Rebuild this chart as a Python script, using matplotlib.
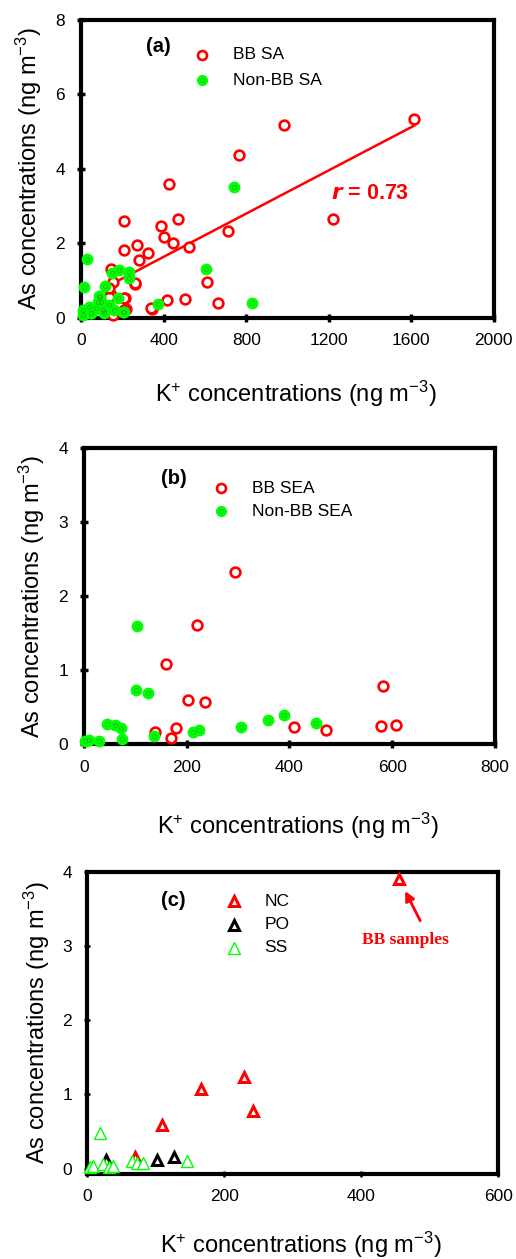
import numpy as np
import matplotlib
matplotlib.use("Agg")
import matplotlib.pyplot as plt

plt.rcParams['font.family'] = ['Liberation Sans', 'DejaVu Sans']
plt.rcParams['mathtext.fontset'] = 'custom'
plt.rcParams['mathtext.rm'] = 'Liberation Sans'
plt.rcParams['mathtext.it'] = 'Liberation Sans:italic'
plt.rcParams['mathtext.bf'] = 'Liberation Sans:bold'

# ---------------- data ----------------
# Panel (a): SA
bb_sa_k = [1615, 983, 765, 424, 1221, 206, 469, 389, 403, 447, 713, 521, 272, 209, 324, 279,
           611, 259, 503, 414, 665, 343, 212, 217, 145, 153, 146, 161, 262, 136, 209, 209, 153,
           128, 136, 338]
bb_sa_as = [5.34, 5.18, 4.37, 3.58, 2.64, 2.60, 2.64, 2.45, 2.15, 2.00, 2.33, 1.88, 1.96, 1.81,
            1.72, 1.55, 0.96, 0.91, 0.50, 0.47, 0.40, 0.24, 0.52, 0.22, 1.29, 0.96, 0.60, 0.13,
            0.92, 0.56, 0.52, 0.20, 0.07, 0.25, 0.78, 0.25]
nonbb_sa_k = [741, 28, 605, 827, 372, 15, 117, 149, 182, 230, 230, 177, 96, 88, 39, 7, 7, 47,
              104, 112, 160, 209, 136, 72, 91, 83, 46, 112, 204]
nonbb_sa_as = [3.51, 1.57, 1.31, 0.40, 0.36, 0.81, 0.85, 1.19, 1.28, 1.21, 1.05, 0.52, 0.42,
               0.58, 0.29, 0.20, 0.07, 0.11, 0.20, 0.11, 0.20, 0.16, 0.34, 0.25, 0.56, 0.42,
               0.11, 0.14, 0.14]
fit_slope = 0.0029
fit_intercept = 0.47
fit_k_range = [124, 1615]
r_text = r'$\mathbfit{r}$ = 0.73'

# Panel (b): SEA
bb_sea_k = [295, 221, 159, 582, 203, 236, 138, 180, 170, 408, 471, 578, 608]
bb_sea_as = [2.33, 1.61, 1.08, 0.79, 0.60, 0.57, 0.17, 0.22, 0.09, 0.24, 0.20, 0.25, 0.26]
nonbb_sea_k = [104, 101, 125, 45, 60, 72, 74, 136, 213, 224, 306, 358, 390, 452, 2, 10, 30]
nonbb_sea_as = [1.59, 0.73, 0.69, 0.27, 0.26, 0.22, 0.07, 0.11, 0.17, 0.20, 0.23, 0.33, 0.40,
                0.29, 0.04, 0.06, 0.04]

# Panel (c)
nc_k = [455, 229, 166, 241.5, 109.5, 70]
nc_as = [3.90, 1.24, 1.07, 0.78, 0.59, 0.16]
po_k = [102, 127, 28]
po_as = [0.12, 0.15, 0.12]
ss_k = [18.5, 145, 65, 72, 82, 4, 9, 23, 31, 38]
ss_as = [0.48, 0.10, 0.10, 0.08, 0.08, 0.02, 0.03, 0.06, 0.02, 0.04]

xlabel = r'K$^{+}$ concentrations (ng m$^{-3}$)'
ylabel = r'As concentrations (ng m$^{-3}$)'

RED = '#ff0000'
GREEN = '#00ff00'
GREEN_IN = '#22aa22'

W, H = 516, 1259
fig = plt.figure(figsize=(W / 100, H / 100), dpi=100)


def style_axes(ax):
    for s in ax.spines.values():
        s.set_linewidth(3.0)
    ax.tick_params(direction='inout', length=6, width=2.5, labelsize=12.5, pad=8.5,
                   top=False, right=False)


def red_circles(ax, x, y, ms=7):
    ax.plot(x, y, 'o', ls='none', mfc='white', mec=RED, mew=1.9, ms=ms, zorder=3,
            clip_on=False)


def green_circles(ax, x, y, ms=7.5):
    ax.plot(x, y, 'o', ls='none', mfc=GREEN, mec=GREEN, mew=1.0, ms=ms, zorder=4,
            clip_on=False)
    ax.plot(x, y, 'o', ls='none', mfc='none', mec=GREEN_IN, mew=0.5, ms=3, zorder=4,
            clip_on=False)


def set_labels(ax, xfrac_y, yfrac_x):
    ax.set_xlabel(xlabel, fontsize=17)
    ax.set_ylabel(ylabel, fontsize=17)
    ax.xaxis.set_label_coords(0.52, xfrac_y)
    ax.yaxis.set_label_coords(yfrac_x, 0.5)


# ---------------- (a) ----------------
ax = fig.add_axes([0.1574, 0.7478, 0.7994, 0.2367])
style_axes(ax)
red_circles(ax, bb_sa_k, bb_sa_as)
fx = np.array(fit_k_range)
ax.plot(fx, fit_slope * fx + fit_intercept, color=RED, lw=1.8, zorder=2)
green_circles(ax, nonbb_sa_k, nonbb_sa_as)
ax.set_xlim(0, 2000)
ax.set_ylim(0, 8)
ax.set_xticks([0, 400, 800, 1200, 1600, 2000])
ax.set_yticks([0, 2, 4, 6, 8])
ax.text(1210, 3.34, r_text, color=RED, fontsize=15.5, fontweight='bold', va='center')
ax.text(0.157, 0.909, '(a)', transform=ax.transAxes, fontsize=14.5, fontweight='bold',
        va='center')
red_circles(ax, [0.292], [0.881], ms=6.5)
ax.lines[-1].set_transform(ax.transAxes)
ax.plot([0.292], [0.797], 'o', mfc=GREEN, mec=GREEN, ms=7, transform=ax.transAxes)
ax.plot([0.292], [0.797], 'o', mfc='none', mec=GREEN_IN, mew=0.5, ms=3, transform=ax.transAxes)
ax.text(0.367, 0.881, 'BB SA', transform=ax.transAxes, fontsize=12.5, va='center')
ax.text(0.367, 0.797, 'Non-BB SA', transform=ax.transAxes, fontsize=12.5, va='center')
set_labels(ax, -0.205, -0.09)

# ---------------- (b) ----------------
ax = fig.add_axes([0.1628, 0.4087, 0.7961, 0.2357])
style_axes(ax)
red_circles(ax, bb_sea_k, bb_sea_as)
green_circles(ax, nonbb_sea_k, nonbb_sea_as)
ax.set_xlim(0, 800)
ax.set_ylim(0, 4)
ax.set_xticks([0, 200, 400, 600, 800])
ax.set_yticks([0, 1, 2, 3, 4])
ax.text(0.187, 0.895, '(b)', transform=ax.transAxes, fontsize=14.5, fontweight='bold',
        va='center')
red_circles(ax, [0.3335], [0.864], ms=6.5)
ax.lines[-1].set_transform(ax.transAxes)
ax.plot([0.3335], [0.786], 'o', mfc=GREEN, mec=GREEN, ms=7, transform=ax.transAxes)
ax.plot([0.3335], [0.786], 'o', mfc='none', mec=GREEN_IN, mew=0.5, ms=3, transform=ax.transAxes)
ax.text(0.408, 0.864, 'BB SEA', transform=ax.transAxes, fontsize=12.5, va='center')
ax.text(0.408, 0.786, 'Non-BB SEA', transform=ax.transAxes, fontsize=12.5, va='center')
set_labels(ax, -0.222, -0.09)

# ---------------- (c) ----------------
ax = fig.add_axes([0.1692, 0.0675, 0.7965, 0.2401])
style_axes(ax)
ax.tick_params(width=1.8, length=5)
ax.plot(nc_k, nc_as, '^', ls='none', mfc='white', mec=RED, mew=2.2, ms=6.5, zorder=3,
        clip_on=False)
ax.plot(po_k, po_as, '^', ls='none', mfc='white', mec='black', mew=2.2, ms=6.5, zorder=3,
        clip_on=False)
ax.plot(ss_k, ss_as, '^', ls='none', mfc='white', mec=GREEN, mew=1.0, ms=9, zorder=4,
        clip_on=False)
ax.set_xlim(0, 600)
ax.set_ylim(-0.074, 4)
ax.set_xticks([0, 200, 400, 600])
ax.set_yticks([0, 1, 2, 3, 4])
ax.text(0.1786, 0.906, '(c)', transform=ax.transAxes, fontsize=14.5, fontweight='bold',
        va='center')
ax.plot([0.357], [0.903], '^', mfc='white', mec=RED, mew=2.2, ms=6.5, transform=ax.transAxes)
ax.plot([0.357], [0.824], '^', mfc='white', mec='black', mew=2.2, ms=6.5, transform=ax.transAxes)
ax.plot([0.357], [0.749], '^', mfc='white', mec=GREEN, mew=1.0, ms=9, transform=ax.transAxes)
ax.text(0.431, 0.903, 'NC', transform=ax.transAxes, fontsize=12.5, va='center')
ax.text(0.431, 0.824, 'PO', transform=ax.transAxes, fontsize=12.5, va='center')
ax.text(0.431, 0.749, 'SS', transform=ax.transAxes, fontsize=12.5, va='center')
ax.annotate('', xy=(464, 3.74), xytext=(486, 3.34),
            arrowprops=dict(arrowstyle='-|>', color=RED, lw=2.0, mutation_scale=14,
                            shrinkA=0, shrinkB=0))
ax.text(465, 3.08, 'BB samples', color=RED, fontsize=12.5, fontweight='bold',
        family='Liberation Serif', ha='center', va='center')
set_labels(ax, -0.186, -0.085)

fig.savefig('out.png', dpi=100)
